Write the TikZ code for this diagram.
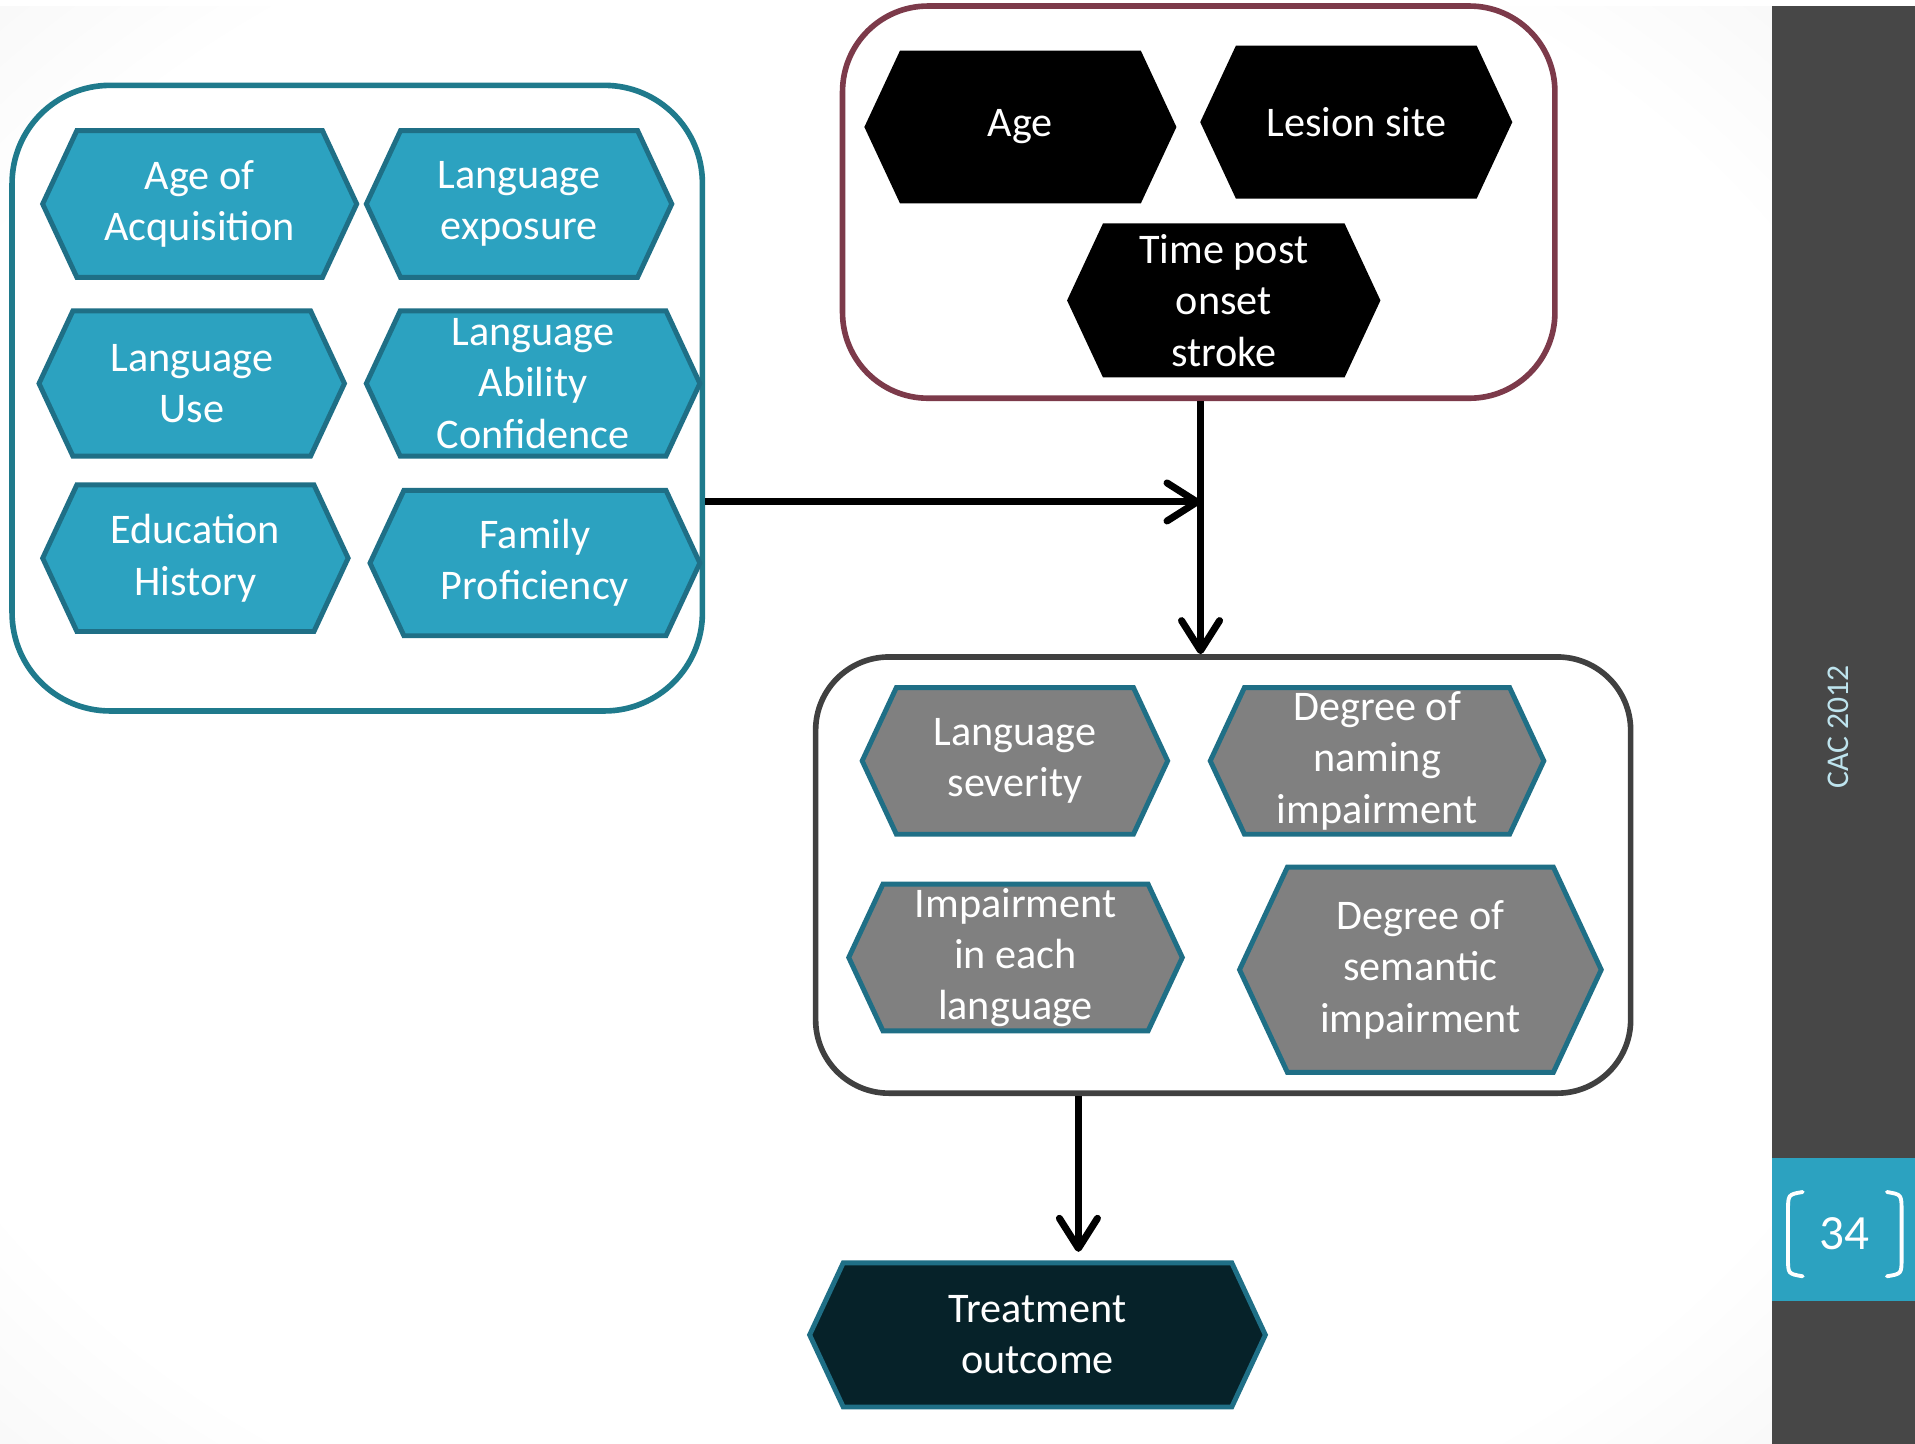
\documentclass[tikz,border=0pt]{standalone}
\usepackage{fontspec}
\setmainfont{Carlito}
\usetikzlibrary{shapes.symbols,arrows.meta}
\definecolor{hexteal}{RGB}{44,162,192}
\definecolor{hexedge}{RGB}{31,111,134}
\definecolor{boxteal}{RGB}{31,122,140}
\definecolor{boxmaroon}{RGB}{124,58,74}
\definecolor{boxgray}{RGB}{64,64,64}
\definecolor{hexgray}{RGB}{128,128,128}
\definecolor{hexdark}{RGB}{6,34,41}
\definecolor{sidebar}{RGB}{71,71,71}
\definecolor{cactext}{RGB}{190,228,238}
\pgfdeclareradialshading{slide}{\pgfpoint{0bp}{0bp}}{color(0bp)=(white); color(30bp)=(white); color(72bp)=(black!19)}
\begin{document}
\begin{tikzpicture}[x=0.012213cm, y=-0.012213cm]
 \tikzstyle{hex}=[signal, signal to=east and west, signal pointer angle=130, inner sep=0pt,
   text=white, align=center, line width=1.4pt, font=\fontsize{12}{14.6}\selectfont]
 \tikzstyle{tealhex}=[hex, fill=hexteal, draw=hexedge]
 \tikzstyle{blackhex}=[hex, fill=black, draw=black]
 \tikzstyle{grayhex}=[hex, fill=hexgray, draw=hexedge]
 \tikzstyle{darkhex}=[hex, fill=hexdark, draw=hexedge]
 \tikzstyle{group}=[rectangle, line width=1.6pt, fill=white]
 \tikzstyle{arr}=[line width=2pt, -{Straight Barb[length=3mm, width=3.8mm, round]}]
\useasboundingbox (0,0) rectangle (1568,1182);
% background of the slide
\fill[white] (0,0) rectangle (1568,1182);
\shade[shading=slide] (0,5) rectangle (1451,1182);
\fill[sidebar] (1451,5) rectangle (1568,1182);
\fill[hexteal] (1451,948) rectangle (1568,1065);
\draw (1505,595) node[rotate=90, text=cactext, font=\fontsize{9}{10}\selectfont] (cac) {CAC 2012};
\draw (1510,1010) node[text=white, font=\fontsize{14}{16}\selectfont] (page) {34};
\draw[white, line width=1.1pt, line cap=round] (1476,976) .. controls (1464,978) .. (1464,992) -- (1464,1030) .. controls (1464,1043) .. (1476,1045);
\draw[white, line width=1.1pt, line cap=round] (1545,976) .. controls (1557,978) .. (1557,992) -- (1557,1030) .. controls (1557,1043) .. (1545,1045);
% group boxes
\draw (292.5,326) node[group, draw=boxteal, rounded corners=0.98cm, minimum width=6.9cm, minimum height=6.253cm] (bil) {};
\draw (981.5,165.5) node[group, draw=boxmaroon, rounded corners=0.855cm, minimum width=7.12cm, minimum height=3.92cm] (stroke) {};
\draw (1001.5,716.5) node[group, draw=boxgray, rounded corners=0.733cm, minimum width=8.146cm, minimum height=4.36cm] (aph) {};
% bilingual factors
\draw (163.5,167) node[tealhex, minimum width=3.139cm, minimum height=1.466cm] (aoa) {Age of\\Acquisition};
\draw (425,167) node[tealhex, minimum width=3.053cm, minimum height=1.466cm] (exp) {Language\\exposure};
\draw (157,314) node[tealhex, minimum width=3.053cm, minimum height=1.453cm] (use) {Language\\Use};
\draw (436.5,314) node[tealhex, minimum width=3.334cm, minimum height=1.453cm] (conf) {Language\\Ability\\Confidence};
\draw (160,457) node[tealhex, minimum width=3.053cm, minimum height=1.466cm] (edu) {Education\\History};
\draw (438,461) node[tealhex, minimum width=3.297cm, minimum height=1.453cm] (fam) {Family\\Proficiency};
% stroke factors
\draw (835.5,104) node[blackhex, minimum width=3.065cm, minimum height=1.478cm] (age) {Age};
\draw (1110.5,100) node[blackhex, minimum width=3.065cm, minimum height=1.478cm] (lesion) {Lesion site};
\draw (1002,246) node[blackhex, minimum width=3.078cm, minimum height=1.49cm] (tpo) {Time post\\onset\\stroke};
% aphasia factors
\draw (831,623) node[grayhex, minimum width=3.053cm, minimum height=1.466cm] (sev) {Language\\severity};
\draw (1127.5,623) node[grayhex, minimum width=3.334cm, minimum height=1.466cm] (nam) {Degree of\\naming\\impairment};
\draw (831.5,784) node[grayhex, minimum width=3.334cm, minimum height=1.466cm] (each) {Impairment\\in each\\language};
\draw (1163,794) node[grayhex, minimum width=3.615cm, minimum height=2.052cm] (sem) {Degree of\\semantic\\impairment};
% outcome
\draw (849.5,1093) node[darkhex, minimum width=4.555cm, minimum height=1.441cm] (out) {Treatment\\outcome};
% arrows
\coordinate (join) at (983,411);
\coordinate (outtop) at (883,1025);
\draw[arr] (bil.east |- join) -- (join);
\draw[arr] (stroke.south -| join) -- (aph.north -| join);
\draw[arr] (aph.south -| outtop) -- (outtop);
\end{tikzpicture}
\end{document}
